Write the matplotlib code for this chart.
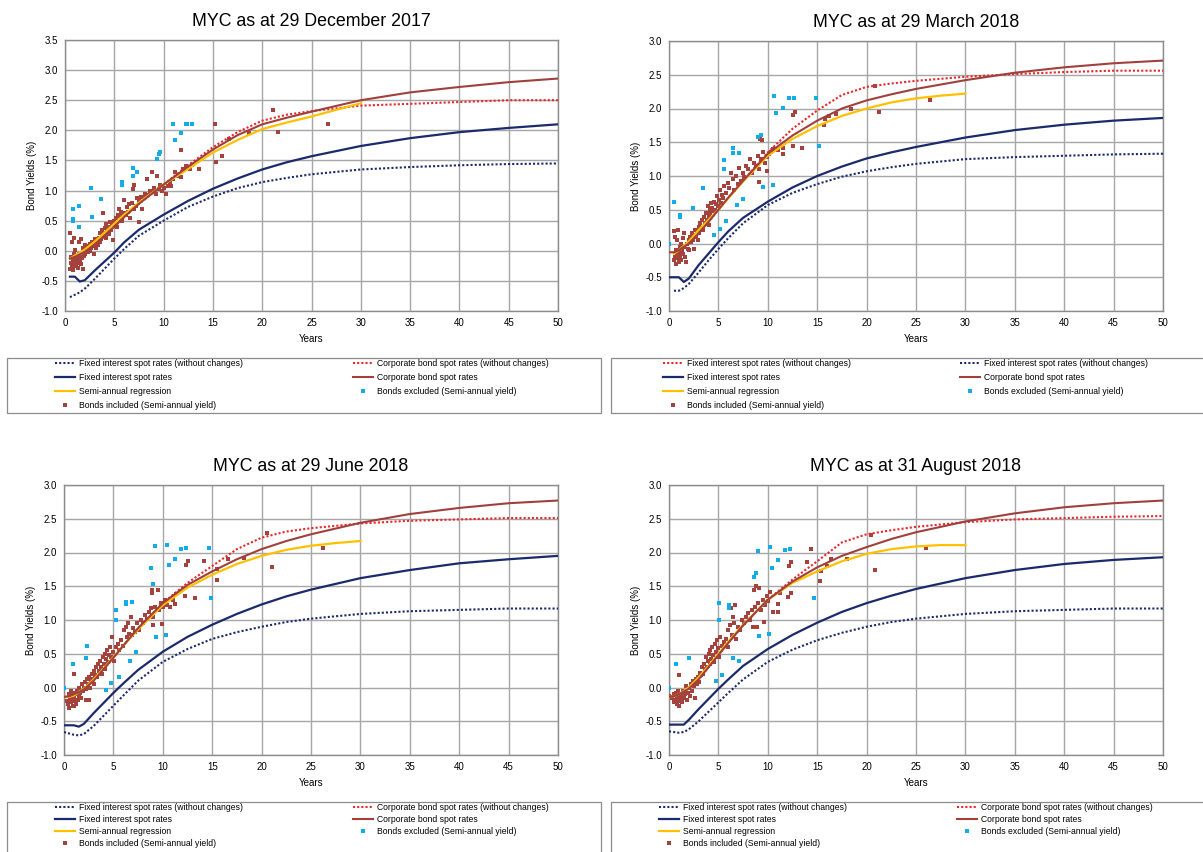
import numpy as np
import matplotlib
matplotlib.use("Agg")
import matplotlib.pyplot as plt
from matplotlib.lines import Line2D
from matplotlib.patches import Rectangle
from matplotlib.ticker import FormatStrFormatter, MultipleLocator

plt.rcParams['font.family'] = ['Liberation Sans', 'DejaVu Sans']

W, H = 1203, 852
nan = np.nan

# term grid for the spot curves and for the regression
TERMS = [0, 0.5, 1, 1.5, 2, 3, 4, 5, 6, 7.5, 10, 12.5, 15, 17.5, 20, 22.5, 25, 30, 35, 40, 45, 50]
REG_TERMS = [0, 0.5, 1, 2, 3, 4, 5, 6, 7.5, 10, 12.5, 15, 17.5, 20, 22.5, 25, 27.5, 30]

# ---- 29 December 2017
DEC_FIXED = [nan, -0.43, -0.43, -0.51, -0.49, -0.33, -0.18, -0.03, 0.14, 0.35, 0.6, 0.83, 1.03, 1.2, 1.35, 1.47, 1.57, 1.74, 1.87, 1.97, 2.04, 2.10]
DEC_FIXED_OLD = [nan, -0.77, -0.73, -0.69, -0.63, -0.47, -0.3, -0.13, 0.03, 0.25, 0.5, 0.73, 0.9, 1.04, 1.14, 1.21, 1.27, 1.35, 1.39, 1.42, 1.44, 1.45]
DEC_CORP = [nan, -0.13, -0.1, -0.06, -0.02, 0.1, 0.24, 0.4, 0.56, 0.78, 1.1, 1.4, 1.68, 1.92, 2.1, 2.21, 2.31, 2.5, 2.63, 2.72, 2.8, 2.86]
DEC_CORP_OLD = [nan, -0.13, -0.1, -0.06, -0.02, 0.1, 0.24, 0.4, 0.56, 0.78, 1.1, 1.42, 1.72, 1.97, 2.16, 2.26, 2.32, 2.41, 2.44, 2.47, 2.5, 2.5]
DEC_REG = [nan, -0.13, -0.08, 0.02, 0.15, 0.3, 0.45, 0.6, 0.8, 1.1, 1.36, 1.63, 1.84, 2.02, 2.13, 2.23, 2.34, 2.45]
DEC_INCLUDED = [
    (0.5, -0.3), (0.5, 0.3), (0.6, -0.1), (0.6, -0.2), (0.7, -0.25), (0.7, 0.15), (0.8, -0.15), (0.8, -0.32),
    (0.9, 0.22), (0.9, -0.05), (1.0, -0.2), (1.0, -0.1), (1.0, 0.02), (1.1, -0.25), (1.1, -0.15), (1.2, -0.08),
    (1.2, -0.2), (1.3, -0.12), (1.3, -0.28), (1.4, -0.05), (1.4, 0.15), (1.5, -0.18), (1.5, -0.1), (1.6, -0.22),
    (1.6, 0.2), (1.7, -0.12), (1.8, -0.3), (1.8, 0.05), (1.9, -0.08), (2.0, 0.1), (2.0, -0.05), (2.1, 0.0),
    (2.2, 0.05), (2.3, -0.02), (2.4, 0.08), (2.5, 0.12), (2.5, 0.0), (2.6, 0.05), (2.7, 0.15), (2.8, 0.08),
    (2.9, -0.05), (3.0, 0.12), (3.0, 0.2), (3.1, 0.05), (3.2, 0.17), (3.3, 0.1), (3.4, 0.22), (3.5, 0.15),
    (3.6, 0.3), (3.7, 0.2), (3.8, 0.35), (3.8, 0.25), (3.9, 0.63), (4.0, 0.3), (4.1, 0.38), (4.2, 0.22),
    (4.2, 0.45), (4.3, 0.33), (4.4, 0.4), (4.5, 0.28), (4.6, 0.48), (4.7, 0.35), (4.8, 0.42), (4.9, 0.18),
    (5.0, 0.5), (5.1, 0.45), (5.2, 0.55), (5.3, 0.4), (5.4, 0.6), (5.5, 0.7), (5.6, 0.57), (5.7, 0.65),
    (5.8, 0.5), (6.0, 0.63), (6.0, 0.85), (6.2, 0.6), (6.3, 0.72), (6.4, 0.65), (6.5, 0.78), (6.6, 0.55),
    (6.8, 0.8), (6.9, 1.02), (7.0, 0.7), (7.0, 1.1), (7.2, 0.75), (7.3, 0.88), (7.5, 0.82), (7.5, 0.48),
    (7.7, 0.9), (7.8, 0.7), (8.0, 0.88), (8.1, 0.95), (8.3, 1.2), (8.4, 0.92), (8.6, 1.0), (8.8, 1.3),
    (8.9, 0.98), (9.0, 1.05), (9.2, 0.95), (9.3, 1.25), (9.5, 1.02), (9.6, 1.1), (9.8, 1.0), (10.0, 1.05),
    (10.2, 0.95), (10.4, 1.08), (10.6, 1.15), (10.8, 1.08), (11.0, 1.2), (11.2, 1.3), (11.5, 1.25), (11.8, 1.22),
    (12.0, 1.35), (12.3, 1.4), (12.7, 1.36), (13.6, 1.36), (12.85, 1.42), (11.76, 1.68), (15.17, 2.11),
    (15.36, 1.47), (15.94, 1.57), (16.64, 1.86), (18.65, 1.96), (21.09, 2.33), (21.56, 1.97), (26.66, 2.11),
]
DEC_EXCLUDED = [
    (0.77, 0.5), (0.85, 0.69), (1.43, 0.75), (0.85, 0.53), (1.43, 0.39), (2.67, 1.04), (2.71, 0.56),
    (3.68, 0.86), (5.8, 1.14), (5.8, 1.1), (6.85, 1.37), (6.85, 1.24), (7.35, 1.31), (9.37, 1.52),
    (9.67, 1.64), (9.56, 1.61), (10.99, 2.11), (11.15, 1.84), (11.76, 1.96), (12.27, 2.1), (12.35, 2.11),
    (12.85, 2.11),
]

# ---- 29 March 2018
MAR_FIXED = [-0.5, -0.5, -0.5, -0.57, -0.52, -0.32, -0.15, 0.02, 0.18, 0.38, 0.62, 0.83, 1.0, 1.14, 1.26, 1.35, 1.43, 1.57, 1.68, 1.76, 1.82, 1.86]
MAR_FIXED_OLD = [nan, -0.7, -0.7, -0.66, -0.6, -0.43, -0.25, -0.08, 0.08, 0.3, 0.57, 0.75, 0.88, 0.99, 1.07, 1.13, 1.18, 1.25, 1.28, 1.3, 1.32, 1.33]
MAR_CORP = [-0.13, -0.13, -0.1, -0.05, 0.0, 0.15, 0.32, 0.5, 0.68, 0.93, 1.33, 1.6, 1.82, 2.0, 2.12, 2.21, 2.29, 2.42, 2.53, 2.61, 2.67, 2.71]
MAR_CORP_OLD = [nan, -0.13, -0.1, -0.05, 0.0, 0.15, 0.32, 0.5, 0.68, 0.93, 1.35, 1.7, 1.97, 2.2, 2.32, 2.37, 2.41, 2.47, 2.51, 2.54, 2.56, 2.56]
MAR_REG = [nan, -0.15, -0.1, 0.03, 0.2, 0.35, 0.5, 0.67, 0.92, 1.3, 1.55, 1.74, 1.89, 2.0, 2.09, 2.15, 2.19, 2.22]
MAR_INCLUDED = [
    (0.5, -0.25), (0.5, 0.18), (0.6, -0.2), (0.6, 0.1), (0.7, -0.3), (0.7, -0.1), (0.8, -0.15), (0.8, 0.05),
    (0.9, -0.22), (0.9, 0.2), (1.0, -0.12), (1.0, -0.28), (1.1, -0.05), (1.1, -0.18), (1.2, 0.0), (1.2, -0.25),
    (1.3, -0.1), (1.4, 0.08), (1.4, -0.15), (1.5, -0.05), (1.5, 0.15), (1.6, -0.2), (1.7, -0.28), (1.8, 0.0),
    (1.9, -0.08), (2.0, 0.05), (2.0, -0.1), (2.1, 0.1), (2.2, 0.02), (2.3, 0.15), (2.4, 0.05), (2.5, 0.12),
    (2.5, -0.08), (2.6, 0.2), (2.7, 0.1), (2.8, 0.18), (2.9, 0.05), (3.0, 0.25), (3.0, 0.15), (3.1, 0.3),
    (3.2, 0.22), (3.3, 0.35), (3.4, 0.2), (3.5, 0.4), (3.6, 0.3), (3.7, 0.45), (3.8, 0.35), (3.9, 0.55),
    (4.0, 0.4), (4.0, 0.28), (4.1, 0.5), (4.2, 0.45), (4.3, 0.6), (4.4, 0.52), (4.5, 0.48), (4.6, 0.62),
    (4.7, 0.5), (4.8, 0.58), (4.9, 0.7), (5.0, 0.55), (5.1, 0.65), (5.2, 0.8), (5.3, 0.6), (5.4, 0.72),
    (5.5, 0.68), (5.6, 0.85), (5.8, 0.75), (6.0, 0.9), (6.1, 0.82), (6.3, 1.05), (6.5, 0.95), (6.6, 0.8),
    (6.8, 1.0), (7.0, 0.88), (7.1, 1.12), (7.3, 0.92), (7.5, 1.05), (7.6, 0.98), (7.8, 1.15), (8.0, 1.1),
    (8.2, 1.25), (8.4, 1.05), (8.6, 1.2), (8.8, 1.15), (9.0, 1.3), (9.1, 1.1), (9.3, 1.25), (9.5, 1.35),
    (9.7, 1.2), (9.9, 1.28), (10.1, 1.32), (10.3, 1.36), (10.5, 1.4), (11.0, 1.38), (11.5, 1.42), (11.5, 1.33),
    (12.6, 1.45), (12.75, 1.95), (12.56, 1.9), (13.45, 1.41), (15.67, 1.76), (15.79, 1.85), (16.17, 1.89),
    (16.87, 1.92), (18.43, 1.99), (20.8, 2.33), (21.27, 1.95), (26.4, 2.13), (9.25, 1.55), (9.37, 1.54),
    (9.95, 1.08), (9.14, 0.91),
]
MAR_EXCLUDED = [
    (0.0, 0.0), (0.5, 0.62), (1.09, 0.42), (1.09, 0.39), (2.41, 0.52), (3.42, 0.82), (4.55, 0.13),
    (5.13, 0.22), (5.56, 1.23), (5.56, 1.11), (5.75, 0.33), (6.45, 1.41), (6.45, 1.34), (7.08, 1.34),
    (6.88, 0.57), (7.47, 0.66), (8.98, 1.58), (9.33, 1.61), (9.52, 0.84), (10.53, 0.87), (10.65, 2.19),
    (10.85, 1.93), (11.51, 2.01), (12.17, 2.16), (12.68, 2.16), (14.89, 2.16), (15.16, 1.45),
]

# ---- 29 June 2018
JUN_FIXED = [-0.56, -0.56, -0.56, -0.58, -0.54, -0.38, -0.23, -0.08, 0.06, 0.26, 0.53, 0.75, 0.93, 1.09, 1.23, 1.35, 1.45, 1.62, 1.74, 1.84, 1.9, 1.95]
JUN_FIXED_OLD = [-0.66, -0.68, -0.7, -0.71, -0.69, -0.57, -0.42, -0.27, -0.12, 0.1, 0.38, 0.57, 0.72, 0.82, 0.9, 0.97, 1.02, 1.09, 1.13, 1.15, 1.17, 1.17]
JUN_CORP = [-0.14, -0.13, -0.1, -0.07, -0.03, 0.1, 0.27, 0.44, 0.62, 0.88, 1.25, 1.52, 1.72, 1.9, 2.05, 2.17, 2.27, 2.44, 2.57, 2.66, 2.73, 2.77]
JUN_CORP_OLD = [-0.14, -0.13, -0.1, -0.07, -0.03, 0.1, 0.27, 0.44, 0.62, 0.88, 1.25, 1.55, 1.8, 2.05, 2.22, 2.31, 2.36, 2.43, 2.47, 2.49, 2.51, 2.51]
JUN_REG = [-0.14, -0.14, -0.12, -0.02, 0.12, 0.28, 0.45, 0.62, 0.86, 1.22, 1.48, 1.67, 1.83, 1.95, 2.04, 2.1, 2.14, 2.17]
JUN_INCLUDED = [
    (0.3, -0.2), (0.4, -0.25), (0.5, -0.1), (0.5, -0.3), (0.6, -0.15), (0.7, -0.05), (0.7, -0.22), (0.8, -0.12),
    (0.9, -0.28), (0.9, -0.08), (1.0, 0.2), (1.0, -0.15), (1.1, -0.2), (1.2, -0.1), (1.2, -0.25), (1.3, -0.05),
    (1.4, -0.18), (1.5, -0.12), (1.5, 0.0), (1.6, -0.08), (1.7, -0.15), (1.8, 0.05), (1.9, -0.05), (2.0, 0.0),
    (2.1, 0.08), (2.2, -0.02), (2.2, -0.18), (2.3, 0.12), (2.4, 0.05), (2.5, 0.15), (2.6, 0.0), (2.7, 0.1),
    (2.8, 0.2), (2.9, 0.12), (3.0, 0.05), (3.0, 0.25), (3.1, 0.18), (3.2, 0.3), (3.3, 0.15), (3.4, 0.35),
    (3.5, 0.25), (3.6, 0.4), (3.7, 0.3), (3.8, 0.2), (3.9, 0.45), (4.0, 0.35), (4.1, 0.5), (4.2, 0.28),
    (4.3, 0.42), (4.4, 0.55), (4.5, 0.38), (4.6, 0.48), (4.7, 0.6), (4.8, 0.45), (4.9, 0.75), (5.0, 0.52),
    (5.1, 0.4), (5.3, 0.6), (5.5, 0.65), (5.6, 0.55), (5.8, 0.7), (6.0, 0.62), (6.1, 0.85), (6.3, 0.9),
    (6.4, 0.75), (6.5, 0.95), (6.6, 0.8), (6.8, 1.05), (6.9, 0.78), (7.0, 0.88), (7.2, 0.82), (7.4, 0.95),
    (7.6, 0.85), (7.8, 1.0), (8.0, 0.95), (8.2, 1.08), (8.4, 1.02), (8.6, 1.12), (8.8, 1.18), (8.9, 1.4),
    (8.9, 1.45), (9.0, 1.05), (9.2, 1.2), (9.48, 1.45), (9.6, 1.15), (9.8, 1.25), (10.0, 1.2), (10.2, 1.3),
    (10.4, 1.22), (10.72, 1.19), (11.0, 1.3), (11.22, 1.24), (11.3, 1.38), (12.27, 1.36), (12.35, 1.82),
    (12.54, 1.87), (13.24, 1.32), (14.2, 1.87), (15.48, 1.75), (15.48, 1.6), (16.56, 1.91), (18.19, 1.92),
    (20.59, 2.29), (21.05, 1.79), (26.2, 2.07), (9.87, 0.94), (8.98, 0.92), (2.5, -0.18), (1.0, -0.28),
]
JUN_EXCLUDED = [
    (0.0, 0.0), (0.93, 0.35), (2.2, 0.44), (2.36, 0.61), (4.26, -0.03), (4.8, 0.06), (5.26, 1.15),
    (5.26, 1.0), (5.53, 0.16), (6.31, 1.26), (6.31, 1.23), (6.85, 1.27), (6.7, 0.39), (7.28, 0.52),
    (8.82, 1.77), (9.02, 1.54), (9.17, 2.09), (9.33, 0.75), (10.29, 0.78), (10.41, 2.11), (10.64, 1.82),
    (11.22, 1.91), (11.8, 2.05), (12.38, 2.07), (14.67, 2.07), (14.86, 1.33),
]

# ---- 31 August 2018
AUG_FIXED = [-0.55, -0.55, -0.55, -0.55, -0.48, -0.32, -0.17, -0.02, 0.12, 0.32, 0.57, 0.78, 0.96, 1.12, 1.25, 1.36, 1.46, 1.62, 1.74, 1.83, 1.89, 1.93]
AUG_FIXED_OLD = [-0.65, -0.66, -0.67, -0.66, -0.62, -0.5, -0.36, -0.22, -0.08, 0.12, 0.38, 0.56, 0.7, 0.81, 0.9, 0.97, 1.02, 1.09, 1.13, 1.15, 1.17, 1.17]
AUG_CORP = [-0.13, -0.13, -0.1, -0.06, -0.02, 0.12, 0.3, 0.48, 0.66, 0.92, 1.3, 1.57, 1.78, 1.95, 2.08, 2.2, 2.3, 2.46, 2.58, 2.67, 2.73, 2.77]
AUG_CORP_OLD = [-0.13, -0.13, -0.1, -0.06, -0.02, 0.12, 0.3, 0.48, 0.66, 0.92, 1.3, 1.6, 1.87, 2.15, 2.27, 2.33, 2.38, 2.45, 2.49, 2.51, 2.53, 2.54]
AUG_REG = [-0.13, -0.13, -0.1, 0.0, 0.15, 0.32, 0.5, 0.68, 0.93, 1.3, 1.55, 1.72, 1.87, 1.98, 2.05, 2.09, 2.11, 2.11]
AUG_INCLUDED = [
    (0.0, -0.12), (0.3, -0.15), (0.5, -0.22), (0.5, -0.1), (0.6, -0.18), (0.7, -0.08), (0.8, -0.25), (0.8, -0.14),
    (0.9, -0.05), (1.0, -0.2), (1.0, -0.12), (1.05, 0.18), (0.97, -0.28), (1.1, -0.16), (1.2, -0.1), (1.3, -0.22),
    (1.4, -0.05), (1.5, -0.15), (1.6, -0.1), (1.7, 0.02), (1.8, -0.18), (1.9, -0.08), (2.0, 0.0), (2.1, -0.12),
    (2.2, 0.05), (2.3, -0.05), (2.4, 0.1), (2.5, 0.02), (2.6, -0.15), (2.7, 0.12), (2.8, 0.05), (2.9, 0.15),
    (3.0, 0.08), (3.1, 0.22), (3.2, 0.18), (3.3, 0.3), (3.4, 0.2), (3.5, 0.35), (3.6, 0.28), (3.7, 0.45),
    (3.8, 0.3), (3.9, 0.4), (4.0, 0.5), (4.1, 0.35), (4.2, 0.55), (4.3, 0.42), (4.4, 0.6), (4.5, 0.48),
    (4.6, 0.38), (4.7, 0.65), (4.8, 0.52), (4.9, 0.7), (5.0, 0.58), (5.1, 0.45), (5.2, 0.75), (5.4, 0.62),
    (5.6, 0.68), (5.8, 0.72), (6.0, 0.85), (6.0, 0.6), (6.2, 0.92), (6.3, 1.18), (6.4, 0.78), (6.5, 1.05),
    (6.6, 0.95), (6.7, 1.22), (6.8, 0.72), (7.0, 0.9), (7.2, 0.85), (7.4, 1.0), (7.6, 0.95), (7.8, 1.05),
    (8.0, 1.1), (8.2, 1.0), (8.4, 1.15), (8.6, 1.45), (8.7, 1.2), (8.8, 1.5), (9.0, 1.25), (9.1, 1.48),
    (9.3, 1.15), (9.5, 1.3), (9.7, 1.22), (9.9, 1.35), (10.0, 1.28), (10.2, 1.42), (10.5, 1.12), (11.0, 1.23),
    (11.08, 1.12), (11.2, 1.4), (12.05, 1.34), (12.33, 1.4), (12.13, 1.8), (12.33, 1.86), (13.96, 1.86),
    (14.42, 2.05), (15.24, 1.58), (15.36, 1.72), (15.98, 1.8), (16.37, 1.9), (18.0, 1.91), (20.45, 2.26),
    (20.84, 1.74), (26.01, 2.07), (9.64, 0.97), (8.55, 0.89), (8.94, 0.89),
]
AUG_EXCLUDED = [
    (0.0, 0.0), (0.74, 0.35), (2.06, 0.44), (4.78, 0.1), (5.09, 1.25), (5.09, 1.0), (5.37, 0.19),
    (6.1, 1.22), (6.1, 1.18), (6.49, 0.43), (7.12, 0.4), (8.59, 1.63), (8.79, 1.69), (8.98, 2.02),
    (9.14, 0.77), (10.15, 0.8), (10.23, 2.08), (10.46, 1.77), (11.04, 1.89), (11.74, 2.04), (12.25, 2.05),
    (14.7, 1.32),
]

NAVY = '#1B2A6B'
RED_DOT = '#E8262B'
CORP = '#A0403C'
GOLD = '#FFC000'
CYAN = '#12ADE8'
INC = '#A4433E'
GRID = '#A6A6A6'

FONT_LEG = 6.2


def draw_panel(ax, title, ymax, fixed, fixed_old, corp, corp_old, reg, included, excluded):
    inc = np.array(included).T
    exc = np.array(excluded).T
    ax.scatter(inc[0], inc[1], marker='s', s=7, color=INC, linewidths=0, zorder=3)
    ax.scatter(exc[0], exc[1], marker='s', s=7, color=CYAN, linewidths=0, zorder=3)
    ax.plot(TERMS, fixed_old, color=NAVY, lw=1.5, ls=(0, (1, 1)), zorder=4)
    ax.plot(TERMS, corp_old, color=RED_DOT, lw=1.5, ls=(0, (1, 1)), zorder=4)
    ax.plot(REG_TERMS, reg, color=GOLD, lw=1.6, zorder=4)
    ax.plot(TERMS, corp, color=CORP, lw=1.5, zorder=5)
    ax.plot(TERMS, fixed, color=NAVY, lw=1.6, zorder=5)

    ax.set_xlim(0, 50)
    ax.set_ylim(-1.0, ymax)
    ax.xaxis.set_major_locator(MultipleLocator(5))
    ax.yaxis.set_major_locator(MultipleLocator(0.5))
    ax.yaxis.set_major_formatter(FormatStrFormatter('%.1f'))
    ax.grid(True, color=GRID, lw=1.0)
    ax.set_axisbelow(True)
    for s in ax.spines.values():
        s.set_color('#8C8C8C')
        s.set_linewidth(1.0)
    ax.tick_params(length=0, labelsize=7, pad=5)
    ax.set_title(title, fontsize=12.8, pad=10)
    ax.set_xlabel('Years', fontsize=7)
    ax.set_ylabel('Bond Yields (%)', fontsize=7)
    ax.xaxis.set_label_coords(0.5, -0.085)
    ax.yaxis.set_label_coords(-0.056, 0.5)


def add_legend(fig, x1, x2, y, box, swap=False, spacing=0.58):
    dot_navy = Line2D([], [], color=NAVY, lw=1.5, ls=(0, (1, 1)))
    dot_red = Line2D([], [], color=RED_DOT, lw=1.5, ls=(0, (1, 1)))
    fixed = Line2D([], [], color=NAVY, lw=1.6)
    corp = Line2D([], [], color=CORP, lw=1.5)
    reg = Line2D([], [], color=GOLD, lw=1.6)
    exc = Line2D([], [], color=CYAN, marker='s', ms=2.6, ls='none', mew=0)
    inc = Line2D([], [], color=INC, marker='s', ms=2.6, ls='none', mew=0)
    if swap:
        col1 = [(dot_red, 'Fixed interest spot rates (without changes)')]
        col2 = [(dot_navy, 'Fixed interest spot rates (without changes)')]
    else:
        col1 = [(dot_navy, 'Fixed interest spot rates (without changes)')]
        col2 = [(dot_red, 'Corporate bond spot rates (without changes)')]
    col1 += [(fixed, 'Fixed interest spot rates'), (reg, 'Semi-annual regression'),
             (inc, 'Bonds included (Semi-annual yield)')]
    col2 += [(corp, 'Corporate bond spot rates'), (exc, 'Bonds excluded (Semi-annual yield)')]
    for xpix, items in ((x1, col1), (x2, col2)):
        h, l = zip(*items)
        fig.legend(h, l, loc='upper left', bbox_to_anchor=(xpix / W, 1 - y / H),
                   frameon=False, fontsize=FONT_LEG, borderpad=0, borderaxespad=0,
                   handlelength=2.3, handletextpad=0.45, labelspacing=spacing)
    bx0, by0, bx1, by1 = box
    fig.patches.append(Rectangle((bx0 / W, 1 - by1 / H), (bx1 - bx0) / W, (by1 - by0) / H,
                                 transform=fig.transFigure, fill=False,
                                 edgecolor='#8C8C8C', lw=0.9))


fig = plt.figure(figsize=(W / 100, H / 100), dpi=100)

ax1 = fig.add_axes([65 / W, 1 - 311 / H, 493 / W, 271 / H])
ax2 = fig.add_axes([669 / W, 1 - 311 / H, 494 / W, 270 / H])
ax3 = fig.add_axes([64 / W, 1 - 755 / H, 494 / W, 270 / H])
ax4 = fig.add_axes([669 / W, 1 - 755 / H, 494 / W, 270 / H])

draw_panel(ax1, 'MYC as at 29 December 2017', 3.5, DEC_FIXED, DEC_FIXED_OLD, DEC_CORP,
           DEC_CORP_OLD, DEC_REG, DEC_INCLUDED, DEC_EXCLUDED)
draw_panel(ax2, 'MYC as at 29 March 2018', 3.0, MAR_FIXED, MAR_FIXED_OLD, MAR_CORP,
           MAR_CORP_OLD, MAR_REG, MAR_INCLUDED, MAR_EXCLUDED)
draw_panel(ax3, 'MYC as at 29 June 2018', 3.0, JUN_FIXED, JUN_FIXED_OLD, JUN_CORP,
           JUN_CORP_OLD, JUN_REG, JUN_INCLUDED, JUN_EXCLUDED)
draw_panel(ax4, 'MYC as at 31 August 2018', 3.0, AUG_FIXED, AUG_FIXED_OLD, AUG_CORP,
           AUG_CORP_OLD, AUG_REG, AUG_INCLUDED, AUG_EXCLUDED)

add_legend(fig, 55, 353, 359, (7, 358, 601, 413))
add_legend(fig, 663, 960, 359, (611, 358, 1215, 413), swap=True)
add_legend(fig, 55, 353, 803, (7, 802, 601, 870), spacing=0.36)
add_legend(fig, 659, 957, 803, (611, 802, 1215, 870), spacing=0.36)

fig.savefig('out.png', dpi=100, facecolor='white')
